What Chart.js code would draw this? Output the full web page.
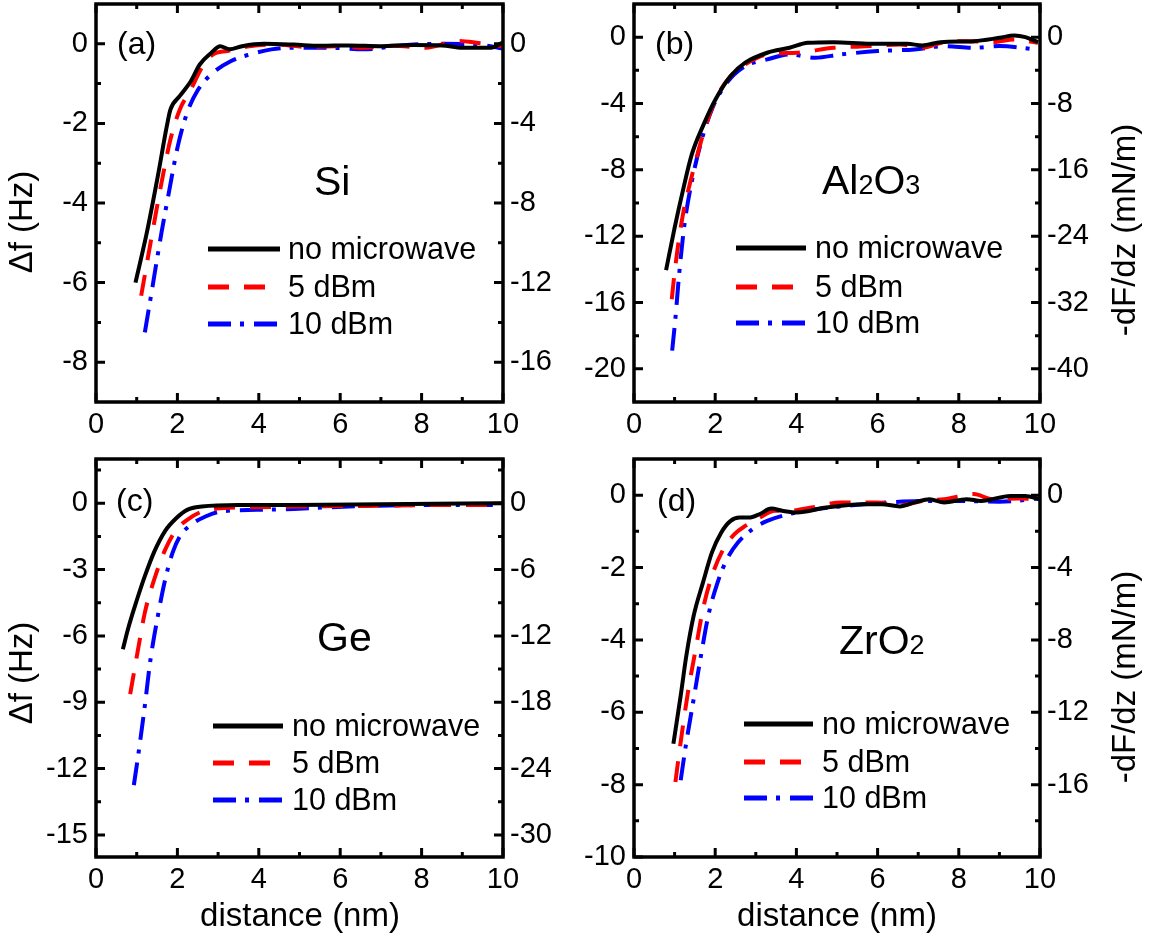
<!DOCTYPE html>
<html>
<head>
<meta charset="utf-8">
<title>Frequency shift vs distance</title>
<script src="https://cdn.jsdelivr.net/npm/chart.js@4.4.1/dist/chart.umd.min.js"></script>
<style>
  html, body { margin: 0; padding: 0; background: #fff; }
  #fig { position: relative; width: 1153px; height: 944px; overflow: hidden; }
  #fig canvas { position: absolute; }
</style>
</head>
<body>
<div id="fig">
  <canvas id="panelA" width="576" height="450" style="left:0;top:0"></canvas>
  <canvas id="panelB" width="577" height="450" style="left:576px;top:0"></canvas>
  <canvas id="panelC" width="576" height="494" style="left:0;top:450px"></canvas>
  <canvas id="panelD" width="577" height="494" style="left:576px;top:450px"></canvas>
</div>
<script>
// shared x axis
const distanceTicks = [0, 2, 4, 6, 8, 10];
const distanceMinor = [1, 3, 5, 7, 9];
const seriesLabels = ['no microwave', '5 dBm', '10 dBm'];

// (a) Si : [distance nm, delta f Hz]
const siNone = [[0.97, -6.0], [1.25, -4.74], [1.52, -3.32], [1.74, -2.07], [1.83, -1.65], [2.06, -1.31], [2.33, -0.94], [2.55, -0.52], [2.83, -0.23], [3.05, -0.06], [3.28, -0.14], [3.59, -0.06], [4.13, 0], [4.86, -0.02], [5.5, -0.05], [6.2, -0.04], [7.0, -0.06], [7.8, -0.03], [8.5, -0.04], [9.0, -0.1], [9.7, -0.1], [10, 0.04]];
const siFive = [[1.11, -6.33], [1.34, -5.0], [1.61, -3.49], [1.83, -2.4], [2.06, -1.65], [2.33, -1.15], [2.6, -0.6], [2.87, -0.27], [3.23, -0.18], [3.77, -0.06], [4.49, -0.02], [5.2, -0.08], [5.9, -0.06], [6.6, -0.1], [7.3, -0.05], [8.1, -0.1], [8.9, 0.07], [9.4, 0.02], [10, -0.06]];
const siTen = [[1.2, -7.25], [1.34, -6.4], [1.61, -4.74], [1.79, -3.74], [2.01, -2.57], [2.24, -1.73], [2.51, -1.15], [2.87, -0.73], [3.32, -0.43], [3.77, -0.27], [4.31, -0.14], [4.86, -0.1], [5.76, -0.1], [6.57, -0.14], [7.5, -0.04], [8.5, 0], [9.4, -0.02], [10, -0.12]];
const siFreqRange = [-9, 1];
const siFreqTicks = [0, -2, -4, -6, -8];
const siFreqMinor = [-1, -3, -5, -7];
const siForceRange = [-18, 2];
const siForceTicks = [0, -4, -8, -12, -16];
const siForceMinor = [-2, -6, -10, -14];

// (b) Al2O3
const aloNone = [[0.79, -14.05], [1.0, -11.5], [1.2, -9.3], [1.42, -7.1], [1.7, -5.35], [2.01, -3.74], [2.38, -2.34], [2.74, -1.54], [3.28, -0.94], [3.83, -0.64], [4.28, -0.34], [4.92, -0.3], [5.83, -0.4], [6.73, -0.4], [7.1, -0.5], [7.55, -0.3], [8.37, -0.24], [9.0, -0.04], [9.37, 0.1], [9.64, 0], [9.95, -0.3]];
const aloFive = [[0.93, -15.8], [1.0, -14.2], [1.1, -12.3], [1.22, -10.5], [1.38, -8.8], [1.56, -7.1], [1.74, -5.55], [2.01, -3.74], [2.38, -2.34], [2.74, -1.64], [3.28, -1.04], [4.01, -0.94], [4.92, -0.64], [5.83, -0.54], [6.55, -0.44], [7.1, -0.64], [7.64, -0.3], [8.19, -0.24], [8.82, -0.3], [9.37, -0.14], [9.95, -0.34]];
const aloTen = [[0.94, -18.9], [1.02, -16.95], [1.11, -14.35], [1.24, -11.35], [1.42, -8.75], [1.65, -6.35], [1.92, -4.34], [2.29, -2.74], [2.74, -1.74], [3.28, -1.34], [3.83, -1.04], [4.46, -1.24], [5.1, -1.04], [6.0, -0.84], [6.91, -0.74], [7.64, -0.54], [8.37, -0.64], [9.0, -0.54], [9.9, -0.74]];
const aloFreqRange = [-22, 2];
const aloFreqTicks = [0, -4, -8, -12, -16, -20];
const aloFreqMinor = [-2, -6, -10, -14, -18];
const aloForceRange = [-44, 4];
const aloForceTicks = [0, -8, -16, -24, -32, -40];
const aloForceMinor = [-4, -12, -20, -28, -36];

// (c) Ge
const geNone = [[0.66, -6.6], [0.8, -5.6], [1.0, -4.4], [1.2, -3.3], [1.43, -2.2], [1.7, -1.25], [1.97, -0.68], [2.24, -0.3], [2.6, -0.15], [3.5, -0.08], [4.86, -0.08], [7.0, -0.05], [10, 0]];
const geFive = [[0.84, -8.63], [1.02, -6.75], [1.2, -4.95], [1.43, -3.45], [1.7, -2.1], [1.97, -1.2], [2.24, -0.75], [2.6, -0.38], [3.05, -0.23], [3.95, -0.18], [4.86, -0.15], [6.7, -0.12], [8.5, -0.08], [10, -0.08]];
const geTen = [[0.93, -12.75], [1.06, -11.1], [1.2, -9.15], [1.34, -7.05], [1.52, -5.1], [1.7, -3.45], [1.88, -2.25], [2.06, -1.5], [2.33, -0.98], [2.69, -0.6], [3.05, -0.38], [3.95, -0.3], [4.86, -0.26], [5.76, -0.18], [6.67, -0.12], [8.5, -0.08], [10, -0.08]];
const geFreqRange = [-16, 2];
const geFreqTicks = [0, -3, -6, -9, -12, -15];
const geFreqMinor = [1.5, -1.5, -4.5, -7.5, -10.5, -13.5];
const geForceRange = [-32, 4];
const geForceTicks = [0, -6, -12, -18, -24, -30];
const geForceMinor = [3, -3, -9, -15, -21, -27];

// (d) ZrO2
const zroNone = [[0.97, -6.87], [1.15, -5.54], [1.29, -4.43], [1.47, -3.33], [1.7, -2.41], [1.92, -1.58], [2.15, -1.03], [2.38, -0.71], [2.6, -0.62], [2.83, -0.62], [3.1, -0.52], [3.38, -0.37], [3.65, -0.43], [4.01, -0.48], [4.74, -0.34], [5.64, -0.25], [6.1, -0.25], [6.55, -0.31], [6.91, -0.2], [7.28, -0.11], [7.64, -0.2], [8.19, -0.11], [8.55, -0.16], [9.27, -0.02], [9.64, -0.02], [9.98, -0.11]];
const zroFive = [[1.02, -7.93], [1.15, -6.82], [1.33, -5.44], [1.52, -4.25], [1.7, -3.14], [1.92, -2.23], [2.2, -1.49], [2.47, -1.08], [2.74, -0.85], [3.1, -0.62], [3.47, -0.43], [3.83, -0.43], [4.37, -0.34], [5.1, -0.2], [6.0, -0.2], [6.55, -0.28], [7.1, -0.16], [7.64, -0.11], [8.37, 0.03], [8.82, -0.11], [9.46, -0.09], [9.98, -0.11]];
const zroTen = [[1.15, -7.88], [1.29, -6.82], [1.47, -5.63], [1.65, -4.43], [1.83, -3.33], [2.06, -2.41], [2.29, -1.77], [2.56, -1.31], [2.92, -0.94], [3.28, -0.71], [3.83, -0.52], [4.46, -0.39], [5.37, -0.28], [6.28, -0.2], [7.19, -0.16], [8.1, -0.16], [9.0, -0.18], [9.98, -0.09]];
const zroFreqRange = [-10, 1];
const zroFreqTicks = [0, -2, -4, -6, -8, -10];
const zroFreqMinor = [-1, -3, -5, -7, -9];
const zroForceRange = [-20, 2];
const zroForceTicks = [0, -4, -8, -12, -16];
const zroForceMinor = [-2, -6, -10, -14, -18];

const FONT = "'Liberation Sans', Arial, Helvetica, sans-serif";
const TICK_MAJOR = 9;
const TICK_MINOR = 5;

// frame box with inward ticks on all four sides
const axisFrame = {
  id: 'axisFrame',
  afterDatasetsDraw(chart, args, o) {
    const { ctx, chartArea: area, scales: { x, y, y2 } } = chart;
    ctx.save();
    ctx.strokeStyle = '#000';
    ctx.lineWidth = 3;
    ctx.beginPath();
    const xMarks = (vals, len) => vals.forEach(v => {
      const px = x.getPixelForValue(v);
      ctx.moveTo(px, area.bottom); ctx.lineTo(px, area.bottom - len);
      ctx.moveTo(px, area.top); ctx.lineTo(px, area.top + len);
    });
    const yMarks = (scale, vals, len, edge, dir) => vals.forEach(v => {
      const py = scale.getPixelForValue(v);
      ctx.moveTo(edge, py); ctx.lineTo(edge + dir * len, py);
    });
    xMarks(distanceTicks, TICK_MAJOR);
    xMarks(distanceMinor, TICK_MINOR);
    yMarks(y, o.leftMajor, TICK_MAJOR, area.left, 1);
    yMarks(y, o.leftMinor, TICK_MINOR, area.left, 1);
    yMarks(y2, o.rightMajor, TICK_MAJOR, area.right, -1);
    yMarks(y2, o.rightMinor, TICK_MINOR, area.right, -1);
    ctx.stroke();
    ctx.lineWidth = 3.5;
    ctx.strokeRect(area.left, area.top, area.width, area.height);
    ctx.restore();
  }
};

// panel tag, material name, legend and axis titles (page coordinates)
const panelText = {
  id: 'panelText',
  afterDraw(chart, args, o) {
    const ctx = chart.ctx;
    const [ox, oy] = o.origin;
    ctx.save();
    ctx.fillStyle = '#000';
    ctx.textAlign = 'left';

    ctx.textBaseline = 'middle';
    ctx.font = `32px ${FONT}`;
    ctx.fillText(o.tag, o.tagAt[0] - ox, o.tagAt[1] - oy);

    ctx.textBaseline = 'alphabetic';
    let cx = o.nameAt[0] - ox;
    o.name.forEach(([txt, size]) => {
      ctx.font = `${size}px ${FONT}`;
      ctx.fillText(txt, cx, o.nameAt[1] - oy);
      cx += ctx.measureText(txt).width;
    });

    chart.data.datasets.forEach((ds, i) => {
      const ly = o.legend.rows[i] - oy;
      ctx.beginPath();
      ctx.strokeStyle = ds.borderColor;
      ctx.lineWidth = 5;
      ctx.setLineDash(ds.borderDash || []);
      ctx.moveTo(o.legend.x0 - ox, ly);
      ctx.lineTo(o.legend.x1 - ox, ly);
      ctx.stroke();
      ctx.setLineDash([]);
      ctx.font = `30.5px ${FONT}`;
      ctx.textBaseline = 'middle';
      ctx.fillText(ds.label, o.legend.tx - ox, ly + 2);
    });

    ctx.font = `33px ${FONT}`;
    ctx.textAlign = 'center';
    ctx.textBaseline = 'middle';
    [o.leftTitle, o.rightTitle].forEach(t => {
      if (!t) return;
      ctx.save();
      ctx.translate(t.at[0] - ox, t.at[1] - oy);
      ctx.rotate(-Math.PI / 2);
      ctx.fillText(t.text, 0, 0);
      ctx.restore();
    });
    if (o.xTitle) {
      ctx.fillText(o.xTitle.text, o.xTitle.at[0] - ox, o.xTitle.at[1] - oy);
    }
    ctx.restore();
  }
};

function toPoints(pairs) {
  return pairs.map(([x, y]) => ({ x, y }));
}

function fixedTicks(values) {
  return scale => { scale.ticks = values.map(v => ({ value: v })); };
}

function makePanel(id, p) {
  const box = p.box; // chart area inside the canvas: left, right, top, bottom
  const canvas = document.getElementById(id);
  const W = canvas.width, H = canvas.height;
  const tickFont = { family: FONT, size: 29 };

  return new Chart(canvas, {
    type: 'line',
    data: {
      datasets: [
        { label: seriesLabels[0], data: toPoints(p.series[0]), borderColor: '#000000', borderWidth: 4 },
        { label: seriesLabels[1], data: toPoints(p.series[1]), borderColor: '#ff0000', borderWidth: 4, borderDash: [21, 15] },
        { label: seriesLabels[2], data: toPoints(p.series[2]), borderColor: '#0000ff', borderWidth: 4, borderDash: [23, 9, 4, 10] }
      ]
    },
    options: {
      responsive: false,
      animation: false,
      events: [],
      layout: { padding: { top: box.top, left: 0, right: 0, bottom: 0 } },
      elements: {
        point: { radius: 0 },
        line: { cubicInterpolationMode: 'monotone', fill: false }
      },
      scales: {
        x: {
          type: 'linear', position: 'bottom', min: 0, max: 10,
          grid: { display: false, drawTicks: false },
          border: { display: false },
          ticks: { font: tickFont, color: '#000', padding: 6, autoSkip: false, maxRotation: 0, callback: v => String(v) },
          afterBuildTicks: fixedTicks(distanceTicks),
          afterFit: s => { s.height = H - box.bottom; s.paddingLeft = 0; s.paddingRight = 0; }
        },
        y: {
          type: 'linear', position: 'left', min: p.freqRange[0], max: p.freqRange[1],
          grid: { display: false, drawTicks: false },
          border: { display: false },
          ticks: { font: tickFont, color: '#000', padding: 8, callback: v => String(v) },
          afterBuildTicks: fixedTicks(p.freqTicks),
          afterFit: s => { s.width = box.left; s.paddingTop = 0; s.paddingBottom = 0; }
        },
        y2: {
          type: 'linear', position: 'right', min: p.forceRange[0], max: p.forceRange[1],
          grid: { display: false, drawTicks: false },
          border: { display: false },
          ticks: { font: tickFont, color: '#000', padding: 7, callback: v => String(v) },
          afterBuildTicks: fixedTicks(p.forceTicks),
          afterFit: s => { s.width = W - box.right; s.paddingTop = 0; s.paddingBottom = 0; }
        }
      },
      plugins: {
        legend: { display: false },
        tooltip: { enabled: false },
        axisFrame: { leftMajor: p.freqTicks, leftMinor: p.freqMinor, rightMajor: p.forceTicks, rightMinor: p.forceMinor },
        panelText: p.text
      }
    },
    plugins: [axisFrame, panelText]
  });
}

makePanel('panelA', {
  box: { left: 96, right: 503, top: 4, bottom: 402 },
  series: [siNone, siFive, siTen],
  freqRange: siFreqRange, freqTicks: siFreqTicks, freqMinor: siFreqMinor,
  forceRange: siForceRange, forceTicks: siForceTicks, forceMinor: siForceMinor,
  text: {
    origin: [0, 0], tag: '(a)', tagAt: [117, 45],
    name: [['Si', 41]], nameAt: [314, 195],
    legend: { x0: 208, x1: 280, tx: 288, rows: [249, 287, 324] },
    leftTitle: { text: 'Δf (Hz)', at: [23, 222] }
  }
});

makePanel('panelB', {
  box: { left: 58, right: 464, top: 4, bottom: 402 },
  series: [aloNone, aloFive, aloTen],
  freqRange: aloFreqRange, freqTicks: aloFreqTicks, freqMinor: aloFreqMinor,
  forceRange: aloForceRange, forceTicks: aloForceTicks, forceMinor: aloForceMinor,
  text: {
    origin: [576, 0], tag: '(b)', tagAt: [655, 45],
    name: [['Al', 41], ['2', 27], ['O', 41], ['3', 27]], nameAt: [822, 194],
    legend: { x0: 736, x1: 806, tx: 815, rows: [248, 287, 323] },
    rightTitle: { text: '-dF/dz (mN/m)', at: [1126, 230] }
  }
});

makePanel('panelC', {
  box: { left: 96, right: 503, top: 9, bottom: 407 },
  series: [geNone, geFive, geTen],
  freqRange: geFreqRange, freqTicks: geFreqTicks, freqMinor: geFreqMinor,
  forceRange: geForceRange, forceTicks: geForceTicks, forceMinor: geForceMinor,
  text: {
    origin: [0, 450], tag: '(c)', tagAt: [116, 502],
    name: [['Ge', 41]], nameAt: [317, 651],
    legend: { x0: 213, x1: 283, tx: 292, rows: [726, 763, 800] },
    leftTitle: { text: 'Δf (Hz)', at: [23, 673] },
    xTitle: { text: 'distance (nm)', at: [300, 917] }
  }
});

makePanel('panelD', {
  box: { left: 58, right: 464, top: 9, bottom: 407 },
  series: [zroNone, zroFive, zroTen],
  freqRange: zroFreqRange, freqTicks: zroFreqTicks, freqMinor: zroFreqMinor,
  forceRange: zroForceRange, forceTicks: zroForceTicks, forceMinor: zroForceMinor,
  text: {
    origin: [576, 450], tag: '(d)', tagAt: [657, 502],
    name: [['Zr', 41], ['O', 41], ['2', 27]], nameAt: [839, 654],
    legend: { x0: 744, x1: 813, tx: 822, rows: [724, 762, 798] },
    rightTitle: { text: '-dF/dz (mN/m)', at: [1126, 677] },
    xTitle: { text: 'distance (nm)', at: [837, 917] }
  }
});
</script>
</body>
</html>
